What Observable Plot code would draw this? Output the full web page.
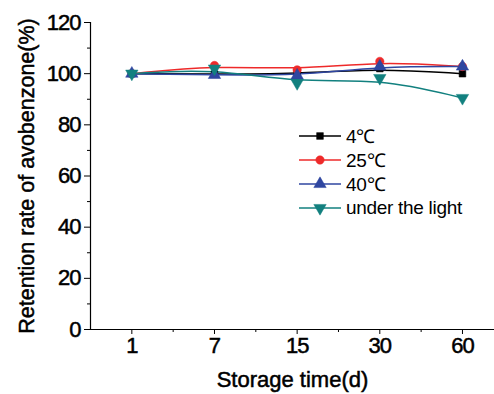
<!DOCTYPE html>
<html>
<head>
<meta charset="utf-8">
<script src="https://cdn.jsdelivr.net/npm/d3@7"></script>
<script src="https://cdn.jsdelivr.net/npm/@observablehq/plot@0.6"></script>
<style>
  html, body { margin: 0; padding: 0; background: #fff; }
  #wrap { position: relative; width: 494px; height: 394px; overflow: hidden; }
  #legend { position: absolute; left: 299px; top: 124px; font-family: "Liberation Sans", Arial, sans-serif; font-size: 19px; color: #000; letter-spacing: -0.3px; }
  #legend .row { display: flex; align-items: center; height: 24px; }
  #legend svg { margin-right: 4px; }
  #chart .heavy text, #chart text.heavy { stroke: #000; stroke-width: 0.5px; }
  #chart .title text, #chart text.title { letter-spacing: 0; }
</style>
</head>
<body>
<div id="wrap"><div id="chart"></div><div id="legend"></div></div>
<script>
const days = ["1", "7", "15", "30", "60"];
const seriesNames = ["4\u2103", "25\u2103", "40\u2103", "under the light"];
const v4 = [100, 99.8, 100, 102, 100];
const v25 = [100, 103.2, 101.5, 104.8, 102.8];
const v40 = [100, 99.5, 99.3, 102.8, 102.8];
const vLight = [100, 102, 96.3, 98.3, 90.5];
const colors = ["#000000", "#ee2a2a", "#2f46a0", "#12807f"];
const yTicks = [0, 20, 40, 60, 80, 100, 120];

const triDown = {
  draw(context, size) {
    const s = Math.sqrt(4 * size / Math.sqrt(3));
    const h = s * Math.sqrt(3) / 2;
    context.moveTo(-s / 2, -h / 3);
    context.lineTo(s / 2, -h / 3);
    context.lineTo(0, 2 * h / 3);
    context.closePath();
  }
};
const triUp = {
  draw(context, size) {
    const s = Math.sqrt(4 * size / Math.sqrt(3));
    const h = s * Math.sqrt(3) / 2;
    context.moveTo(-s / 2, h / 3);
    context.lineTo(s / 2, h / 3);
    context.lineTo(0, -2 * h / 3);
    context.closePath();
  }
};
const symbols = [d3.symbolSquare, d3.symbolCircle, triUp, triDown];
const radii = [3.8, 4.2, 4.6, 4.6];

const allValues = [v4, v25, v40, vLight];
const data = [];
allValues.forEach((vals, s) => vals.forEach((v, i) => data.push({series: seriesNames[s], idx: i, day: days[i], value: v})));

const font = '"Liberation Sans", Arial, sans-serif';

const marks = [
  Plot.ruleY([0], {stroke: "#000", strokeWidth: 1.2}),
  Plot.ruleX([-0.5], {stroke: "#000", strokeWidth: 1.2}),
  Plot.axisY({ticks: yTicks, tickSize: 6, tickPadding: 4, fontSize: 22, label: null, className: "heavy"}),
  Plot.axisY({ticks: d3.range(10, 120, 20), tickSize: 3, tickFormat: () => "", label: null}),
  Plot.axisX({ticks: d3.range(days.length), tickSize: 5, tickPadding: 3, fontSize: 22, tickFormat: i => days[i], label: null, className: "heavy"}),
  Plot.axisX({ticks: d3.range(days.length - 1).map(i => i + 0.5), tickSize: 3, tickFormat: () => "", label: null}),
  Plot.text(["Storage time(d)"], {frameAnchor: "bottom", dy: 57, fontSize: 22, fill: "#000", className: "heavy title"}),
  Plot.text(["Retention rate of avobenzone(%)"], {frameAnchor: "left", textAnchor: "middle", lineAnchor: "middle", rotate: -90, dx: -63, fontSize: 21.5, fill: "#000", className: "heavy title"})
];
seriesNames.forEach((name, s) => {
  const sd = data.filter(d => d.series === name);
  marks.push(Plot.line(sd, {x: "idx", y: "value", stroke: colors[s], strokeWidth: 1.5, curve: "basis"}));
});
seriesNames.forEach((name, s) => {
  const sd = data.filter(d => d.series === name);
  marks.push(Plot.dot(sd, {x: "idx", y: "value", fill: colors[s], stroke: colors[s], strokeWidth: 0.5, symbol: symbols[s], r: radii[s]}));
});

const chart = Plot.plot({
  width: 494,
  height: 394,
  marginLeft: 90,
  marginRight: 0,
  marginTop: 22,
  marginBottom: 65,
  style: {fontFamily: font, color: "#000", background: "#fff", letterSpacing: "-1px"},
  x: {domain: [-0.5, 4.5], range: [90, 503.3]},
  y: {domain: [0, 120]},
  marks
});
document.getElementById("chart").appendChild(chart);

// legend
const legend = document.getElementById("legend");
seriesNames.forEach((name, s) => {
  const row = document.createElement("div");
  row.className = "row";
  const svg = d3.create("svg").attr("width", 43).attr("height", 24);
  svg.append("line").attr("x1", 0).attr("x2", 42).attr("y1", 12).attr("y2", 12).attr("stroke", colors[s]).attr("stroke-width", 1.5);
  const sym = d3.symbol(symbols[s]).size(Math.PI * radii[s] * radii[s]);
  svg.append("path").attr("d", sym()).attr("transform", "translate(21,12)").attr("fill", colors[s]).attr("stroke", colors[s]).attr("stroke-width", 0.5);
  row.appendChild(svg.node());
  const span = document.createElement("span");
  span.textContent = name;
  row.appendChild(span);
  legend.appendChild(row);
});
</script>
</body>
</html>
